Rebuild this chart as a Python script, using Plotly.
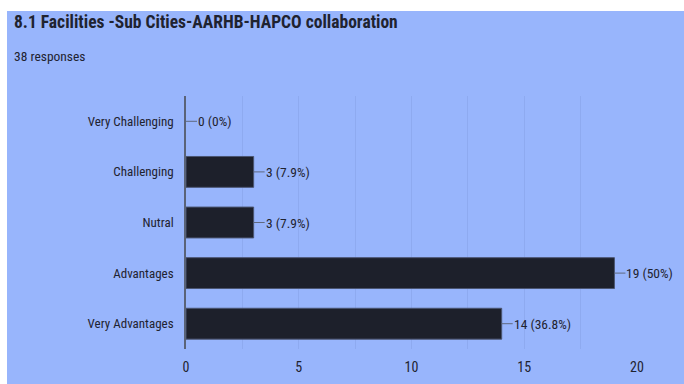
import plotly.graph_objects as go

# Survey question and answers
title_text = "8.1 Facilities -Sub Cities-AARHB-HAPCO collaboration"
total_responses = 38
categories = ["Very Challenging", "Challenging", "Nutral", "Advantages", "Very Advantages"]
counts = [0, 3, 3, 19, 14]
x_ticks = [0, 5, 10, 15, 20]

W, H = 684, 384
ML, MR, MT, MB = 186, 47, 96, 35
PW, PH = W - ML - MR, H - MT - MB

BG = "#98b5fc"
BAR = "#1d202b"
TXT = "#1f2330"
FONT = "Liberation Sans Narrow, Roboto Condensed, Roboto, sans-serif"


def pct_label(c):
    p = round(c / total_responses * 100, 1)
    return f"{c} ({p:g}%)"


fig = go.Figure(
    go.Bar(
        x=counts,
        y=categories,
        orientation="h",
        marker=dict(color=BAR, line=dict(color="#4b5572", width=[1 if c else 0 for c in counts])),
        width=0.61,
        hoverinfo="skip",
    )
)

# value labels with a short leader line from the bar end
for cat, c in zip(categories, counts):
    fig.add_annotation(
        x=c, y=cat, xref="x", yref="y",
        text=pct_label(c),
        showarrow=True, arrowhead=0, arrowwidth=1, arrowcolor="#5f6980",
        ax=11, ay=0, xanchor="left", yanchor="middle",
        borderpad=0,
        font=dict(family=FONT, size=13.5, color=TXT),
    )


def px_to_paper_x(px):
    return (px - ML) / PW


def px_to_paper_y(py):
    return (H - MB - py) / PH


# white frame strips along the top and left edges
fig.add_shape(type="rect", xref="paper", yref="paper", layer="above",
              x0=px_to_paper_x(0), x1=px_to_paper_x(W), y0=px_to_paper_y(11), y1=px_to_paper_y(0),
              fillcolor="white", line_width=0)
fig.add_shape(type="rect", xref="paper", yref="paper", layer="above",
              x0=px_to_paper_x(0), x1=px_to_paper_x(7), y0=px_to_paper_y(H), y1=px_to_paper_y(0),
              fillcolor="white", line_width=0)

fig.add_annotation(text=f"<b>{title_text}</b>", xref="paper", yref="paper",
                   x=px_to_paper_x(12), y=px_to_paper_y(22), xanchor="left", yanchor="middle",
                   showarrow=False, font=dict(family=FONT, size=17.5, color=TXT))
fig.add_annotation(text=f"{total_responses} responses", xref="paper", yref="paper",
                   x=px_to_paper_x(12), y=px_to_paper_y(56), xanchor="left", yanchor="middle",
                   showarrow=False, font=dict(family=FONT, size=13.5, color=TXT))

fig.update_layout(
    width=W, height=H,
    margin=dict(l=ML, r=MR, t=MT, b=MB, pad=0, autoexpand=False),
    paper_bgcolor=BG, plot_bgcolor=BG,
    showlegend=False,
    font=dict(family=FONT, size=13, color=TXT),
    xaxis=dict(
        range=[0, 20], tickvals=x_ticks, ticktext=[str(v) for v in x_ticks],
        showgrid=True, gridcolor="#8eaaf0", gridwidth=1,
        minor=dict(dtick=2.5, tick0=0, showgrid=True, gridcolor="#8eaaf0"),
        zeroline=False, showline=False, ticks="",
        ticklabelstandoff=8, automargin=False,
        tickfont=dict(family=FONT, size=14, color=TXT),
        fixedrange=True,
    ),
    yaxis=dict(
        categoryorder="array", categoryarray=categories, autorange="reversed",
        showgrid=False, zeroline=False,
        showline=True, linecolor="#5a6378", linewidth=1.5,
        ticks="", ticklabelstandoff=8, automargin=False,
        tickfont=dict(family=FONT, size=13, color=TXT),
        fixedrange=True,
    ),
)

fig.write_html("out.html")
